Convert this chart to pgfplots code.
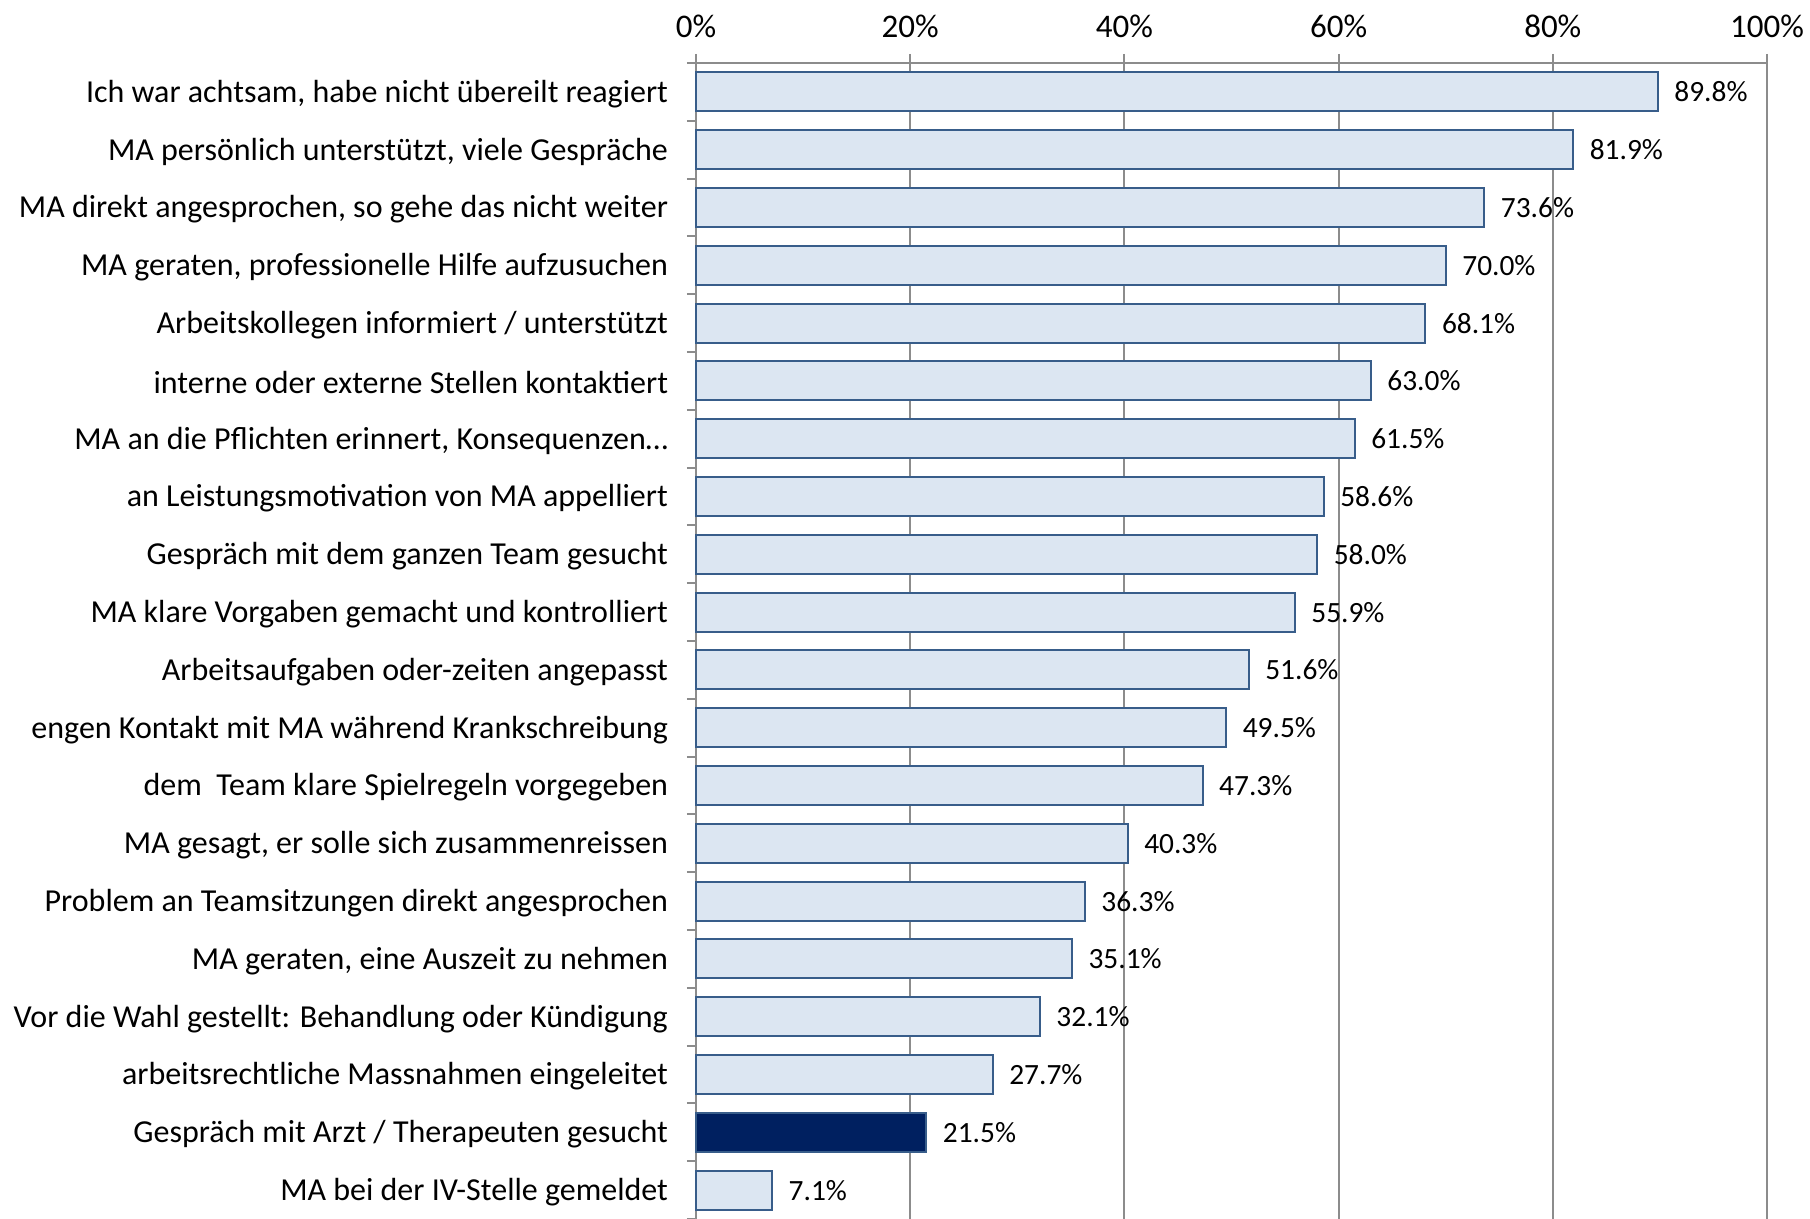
\documentclass[border=0pt]{standalone}
\usepackage{pgfplots}
\pgfplotsset{compat=1.18}
\usepackage{fontspec}
\setmainfont{Carlito}
\definecolor{barfill}{RGB}{220,230,242}
\definecolor{barline}{RGB}{56,93,138}
\definecolor{darkbar}{RGB}{0,32,96}
\definecolor{gridgray}{RGB}{140,140,140}
\begin{document}
\begin{tikzpicture}
\begin{axis}[
  at={(0,0)}, anchor=south west,
  scale only axis,
  width=535.5pt, height=578pt,
  xmin=0, xmax=100,
  ymin=-0.5, ymax=19.5,
  y dir=reverse,
  axis x line*=top,
  axis y line*=left,
  axis line style={draw=gridgray, line width=1pt},
  xtick={0,20,...,100},
  xticklabel={\pgfmathprintnumber{\tick}\%},
  xticklabel style={font=\fontsize{16.5}{19}\selectfont, yshift=4.5pt},
  ytick={0,...,19},
  yticklabels={
    {Ich war achtsam, habe nicht übereilt reagiert},
    {MA persönlich unterstützt, viele Gespräche},
    {MA direkt angesprochen, so gehe das nicht weiter},
    {MA geraten, professionelle Hilfe aufzusuchen},
    {Arbeitskollegen informiert / unterstützt},
    {interne oder externe Stellen kontaktiert},
    {MA an die Pflichten erinnert, Konsequenzen…},
    {an Leistungsmotivation von MA appelliert},
    {Gespräch mit dem ganzen Team gesucht},
    {MA klare Vorgaben gemacht und kontrolliert},
    {Arbeitsaufgaben oder-zeiten angepasst},
    {engen Kontakt mit MA während Krankschreibung},
    {dem\ \ Team klare Spielregeln vorgegeben},
    {MA gesagt, er solle sich zusammenreissen},
    {Problem an Teamsitzungen direkt angesprochen},
    {MA geraten, eine Auszeit zu nehmen},
    {Vor die Wahl gestellt: Behandlung oder Kündigung},
    {arbeitsrechtliche Massnahmen eingeleitet},
    {Gespräch mit Arzt / Therapeuten gesucht},
    {MA bei der IV-Stelle gemeldet}},
  yticklabel style={font=\fontsize{16}{19}\selectfont, xshift=-6pt, yshift=-1pt},
  minor ytick={-0.5,0.5,...,19.5},
  tick align=outside,
  major tick length=4.5pt,
  minor tick length=4.5pt,
  tick style={draw=gridgray, line width=1pt},
  major y tick style={draw=none},
  xmajorgrids,
  grid style={draw=gridgray, line width=1pt},
  /pgf/number format/assume math mode=true,
  xbar, bar width=19.5pt, bar shift=0pt,
  nodes near coords={\pgfmathprintnumber[fixed,fixed zerofill,precision=1]{\pgfplotspointmeta}\%},
  every node near coord/.append style={font=\fontsize{14.7}{17}\selectfont, anchor=west, xshift=4.5pt},
  clip=false,
]
\addplot[fill=barfill, draw=barline, line width=1pt] coordinates {
(89.8,0) (81.9,1) (73.6,2) (70.0,3) (68.1,4) (63.0,5) (61.5,6) (58.6,7) (58.0,8) (55.9,9)
(51.6,10) (49.5,11) (47.3,12) (40.3,13) (36.3,14) (35.1,15) (32.1,16) (27.7,17) (7.1,19)
};
\addplot[fill=darkbar, draw=barline, line width=1pt] coordinates {(21.5,18)};
\end{axis}
\pgfresetboundingbox
\path (-348pt,0pt) rectangle (557pt,609.5pt);
\end{tikzpicture}
\end{document}
